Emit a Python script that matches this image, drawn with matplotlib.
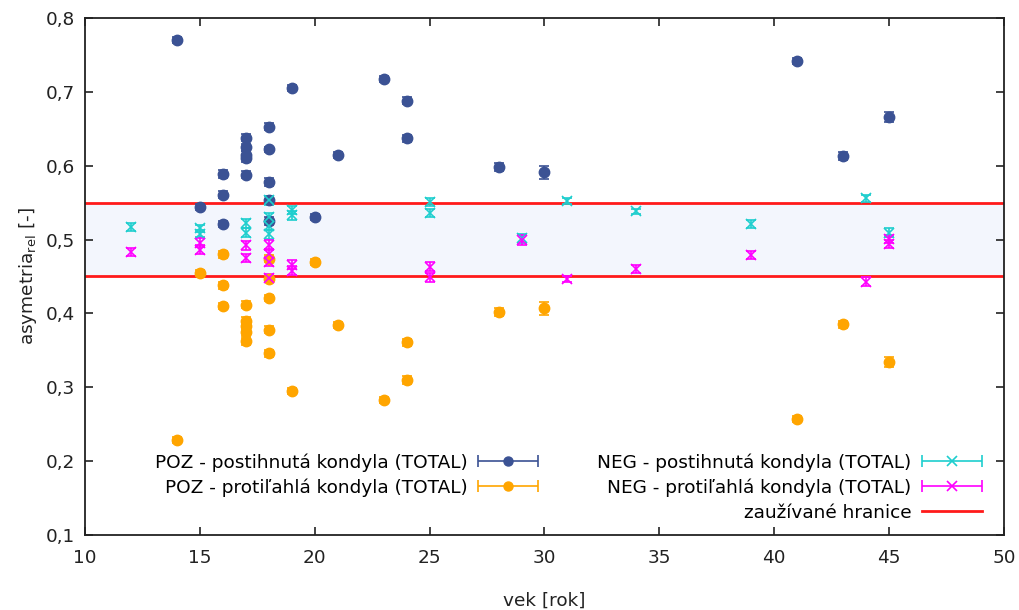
import matplotlib
matplotlib.use("Agg")
import matplotlib.pyplot as plt
import numpy as np
from matplotlib.container import ErrorbarContainer
from matplotlib.legend_handler import HandlerErrorbar
from matplotlib.lines import Line2D

plt.rcParams['font.family'] = ['DejaVu Sans']
plt.rcParams['mathtext.fontset'] = 'dejavusans'

# POZ - postihnutá kondyla
poz_post_vek = [14, 15, 16, 16, 16, 17, 17, 17, 17, 17, 18, 18, 18, 18, 18,
                19, 20, 21, 23, 24, 24, 28, 30, 41, 43, 45]
poz_post_asym = [0.770, 0.544, 0.589, 0.561, 0.521, 0.638, 0.625, 0.615, 0.610, 0.588,
                 0.653, 0.622, 0.578, 0.554, 0.525,
                 0.705, 0.530, 0.615, 0.718, 0.688, 0.637, 0.598, 0.591, 0.742, 0.613, 0.666]
poz_post_err = [0.004, 0.004, 0.005, 0.005, 0.004, 0.005, 0.005, 0.005, 0.005, 0.005,
                0.005, 0.004, 0.005, 0.005, 0.005,
                0.004, 0.004, 0.004, 0.004, 0.005, 0.005, 0.005, 0.009, 0.004, 0.005, 0.007]

# POZ - protiľahlá kondyla
poz_prot_vek = [14, 15, 16, 16, 16, 17, 17, 17, 17, 17, 18, 18, 18, 18, 18,
                19, 20, 21, 23, 24, 24, 28, 30, 41, 43, 45]
poz_prot_asym = [0.229, 0.455, 0.480, 0.438, 0.410, 0.412, 0.390, 0.383, 0.375, 0.362,
                 0.474, 0.447, 0.421, 0.378, 0.346,
                 0.295, 0.470, 0.384, 0.283, 0.361, 0.310, 0.402, 0.407, 0.257, 0.385, 0.334]
poz_prot_err = [0.004, 0.004, 0.005, 0.005, 0.004, 0.005, 0.005, 0.005, 0.005, 0.005,
                0.005, 0.005, 0.004, 0.005, 0.005,
                0.004, 0.004, 0.004, 0.004, 0.005, 0.005, 0.005, 0.009, 0.004, 0.005, 0.007]

# NEG - postihnutá kondyla
neg_post_vek = [12, 15, 15, 17, 17, 18, 18, 18, 18, 19, 19, 25, 25, 29, 31, 34, 39, 44, 45]
neg_post_asym = [0.517, 0.515, 0.508, 0.522, 0.509, 0.553, 0.530, 0.519, 0.507,
                 0.540, 0.533, 0.551, 0.536, 0.502, 0.552, 0.538, 0.521, 0.556, 0.509]
neg_post_err = [0.006, 0.005, 0.005, 0.006, 0.006, 0.006, 0.006, 0.006, 0.006,
                0.006, 0.006, 0.005, 0.006, 0.006, 0.004, 0.004, 0.006, 0.005, 0.006]

# NEG - protiľahlá kondyla
neg_prot_vek = [12, 15, 15, 17, 17, 18, 18, 18, 18, 19, 19, 25, 25, 29, 31, 34, 39, 44, 45, 45]
neg_prot_asym = [0.483, 0.496, 0.486, 0.492, 0.475, 0.493, 0.480, 0.470, 0.448,
                 0.466, 0.458, 0.463, 0.449, 0.499, 0.447, 0.460, 0.479, 0.443, 0.501, 0.494]
neg_prot_err = [0.005, 0.006, 0.006, 0.006, 0.006, 0.006, 0.006, 0.006, 0.006,
                0.006, 0.006, 0.006, 0.006, 0.007, 0.004, 0.005, 0.006, 0.006, 0.005, 0.005]

# zaužívané hranice
hranice = [0.45, 0.55]

x_ticks = [10, 15, 20, 25, 30, 35, 40, 45, 50]
y_ticks = [0.1, 0.2, 0.3, 0.4, 0.5, 0.6, 0.7, 0.8]
y_ticklabels = ["0,1", "0,2", "0,3", "0,4", "0,5", "0,6", "0,7", "0,8"]

c_poz_post = '#3b5294'
c_poz_prot = '#ffa500'
c_neg_post = '#1ecece'
c_neg_prot = '#ff00ff'
c_hran = '#ff1a1a'
fs = 13.3

fig = plt.figure(figsize=(10.2, 6.1), dpi=100)
ax = fig.add_axes([0.0833, 0.123, 0.9010, 0.8475])

ax.axhspan(hranice[0], hranice[1], color='#f3f6fd', zorder=0, lw=0)
for h in hranice:
    ax.axhline(h, color=c_hran, lw=2, zorder=1)

ebkw = dict(linestyle='none', capsize=3.8, elinewidth=1.2, capthick=1.2, zorder=3)
ax.errorbar(poz_post_vek, poz_post_asym, yerr=poz_post_err, fmt='o', color=c_poz_post,
            ms=7.5, **ebkw)
ax.errorbar(poz_prot_vek, poz_prot_asym, yerr=poz_prot_err, fmt='o', color=c_poz_prot,
            ms=7.5, **ebkw)
ax.errorbar(neg_post_vek, neg_post_asym, yerr=neg_post_err, fmt='x', color=c_neg_post,
            ms=6.5, mew=1.2, **ebkw)
ax.errorbar(neg_prot_vek, neg_prot_asym, yerr=neg_prot_err, fmt='x', color=c_neg_prot,
            ms=6.5, mew=1.2, **ebkw)

# legend samples: horizontal bars like gnuplot
def proxy(fmt, color, **kw):
    return ax.errorbar([np.nan], [np.nan], xerr=[1], fmt=fmt, color=color, capsize=4.5,
                       elinewidth=1.2, capthick=1.2, **kw)

h1 = proxy('o', c_poz_post, ms=6.5)
h2 = proxy('o', c_poz_prot, ms=6.5)
h3 = proxy('x', c_neg_post, ms=6.5, mew=1.2)
h4 = proxy('x', c_neg_prot, ms=6.5, mew=1.2)
h5 = Line2D([], [], color=c_hran, lw=2)
blank = Line2D([], [], color='none')

ax.legend([h1, h2, blank, h3, h4, h5],
          ['POZ - postihnutá kondyla (TOTAL)', 'POZ - protiľahlá kondyla (TOTAL)', '',
           'NEG - postihnutá kondyla (TOTAL)', 'NEG - protiľahlá kondyla (TOTAL)',
           'zaužívané hranice'],
          ncols=2, loc='lower right', bbox_to_anchor=(0.976, 0.026),
          frameon=False, markerfirst=False, fontsize=fs, borderpad=0, borderaxespad=0,
          handlelength=3.25, handletextpad=0.55, columnspacing=3.2, labelspacing=0.36,
          numpoints=1, handler_map={ErrorbarContainer: HandlerErrorbar(xerr_size=1.62)})

ax.set_xlim(10, 50)
ax.set_ylim(0.1, 0.8)
ax.set_xticks(x_ticks)
ax.set_xticklabels([str(t) for t in x_ticks])
ax.set_yticks(y_ticks)
ax.set_yticklabels(y_ticklabels)
ax.tick_params(direction='in', top=True, right=True, length=6, width=1.2,
               labelsize=fs, colors='#222222')
ax.tick_params(axis='y', pad=7)
ax.tick_params(axis='x', pad=10)
for s in ax.spines.values():
    s.set_linewidth(1.3)
    s.set_color('#222222')

ax.set_xlabel('vek [rok]', fontsize=fs, labelpad=18, color='#222222')
ax.set_ylabel(r'asymetria$_{\mathrm{rel}}$ [-]', fontsize=fs, labelpad=5, color='#222222')

fig.savefig('out.png', dpi=100)
